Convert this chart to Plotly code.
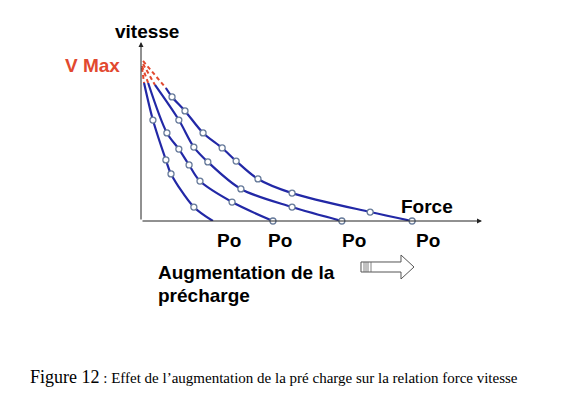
import plotly.graph_objects as go

# ---- data (Force, Vitesse in % of axis length) ----
# blue curve paths (first point = start of solid curve, last = Po on the force axis)
force_A = [0.9, 3.5, 7.3, 8.8, 15.5, 21.1]
vit_A   = [77.1, 56.4, 34.1, 26.3, 7.8, 0.0]
force_B = [2.1, 7.6, 11.1, 14.1, 17.3, 26.7, 38.7]
vit_B   = [77.1, 49.2, 40.2, 31.3, 22.3, 10.6, 0.0]
force_C = [4.1, 11.1, 15.5, 19.6, 29.3, 44.3, 58.9]
vit_C   = [76.0, 56.4, 41.3, 33.0, 17.9, 7.8, 0.0]
force_D = [7.3, 9.1, 12.9, 18.2, 23.8, 27.9, 34.3, 44.3, 67.2, 79.5]
vit_D   = [74.3, 69.3, 61.5, 49.2, 40.8, 33.5, 23.5, 15.6, 5.0, 0.0]

# measured points (markers) on each curve
mk_force_A = [3.5, 7.3, 8.8, 15.5]
mk_vit_A   = [56.4, 34.1, 26.3, 7.8]
mk_force_B = [7.6, 11.1, 14.1, 17.3, 26.7, 38.7]
mk_vit_B   = [49.2, 40.2, 31.3, 22.3, 10.6, 0.0]
mk_force_C = [11.1, 15.5, 19.6, 29.3, 44.3, 58.9]
mk_vit_C   = [56.4, 41.3, 33.0, 17.9, 7.8, 0.0]
mk_force_D = [9.1, 12.9, 18.2, 23.8, 27.9, 34.3, 44.3, 67.2, 79.5]
mk_vit_D   = [69.3, 61.5, 49.2, 40.8, 33.5, 23.5, 15.6, 5.0, 0.0]

# red dashed extrapolation towards V max (V max point, start of blue curve)
vmax_force = [0.3, 0.3, 0.6, 0.6]
vmax_vit   = [85.5, 86.6, 87.7, 89.4]

po_labels = ["Po", "Po", "Po", "Po"]

# ---- layout geometry ----
W, H = 567, 393
L, R, T, B = 141, 85, 42, 172
PW, PH = W - L - R, H - T - B

def px(x):
    return (x - L) / PW

def py(y):
    return (H - B - y) / PH

BLUE = "#2228a6"
RED = "#e2492f"
MK = "#667a9a"
SANS = "Liberation Sans, Arial, Helvetica, sans-serif"
SERIF = "Liberation Serif, Times New Roman, serif"

fig = go.Figure()

curves = [(force_A, vit_A), (force_B, vit_B), (force_C, vit_C), (force_D, vit_D)]
marks = [(mk_force_A, mk_vit_A), (mk_force_B, mk_vit_B),
         (mk_force_C, mk_vit_C), (mk_force_D, mk_vit_D)]

for i, (fx, vy) in enumerate(curves):
    fig.add_trace(go.Scatter(x=[vmax_force[i], fx[0]], y=[vmax_vit[i], vy[0]],
                             mode="lines", line=dict(color=RED, width=2, dash="4px,3px"),
                             hoverinfo="skip", showlegend=False))
    fig.add_trace(go.Scatter(x=fx, y=vy, mode="lines",
                             line=dict(color=BLUE, width=2.2, shape="spline", smoothing=0.9),
                             hoverinfo="skip", showlegend=False))

for fx, vy in marks:
    fig.add_trace(go.Scatter(x=fx, y=vy, mode="markers",
                             marker=dict(symbol="circle", size=6, color="white",
                                         line=dict(color=MK, width=1.3)),
                             hoverinfo="skip", showlegend=False, cliponaxis=False))

ann = []
# axes drawn as arrows
ann.append(dict(x=100, y=0, ax=0, ay=0, xref="x", yref="y", axref="x", ayref="y",
                showarrow=True, arrowhead=2, arrowsize=1, arrowwidth=1,
                arrowcolor="#222", text=""))
ann.append(dict(x=0, y=100, ax=0, ay=0, xref="x", yref="y", axref="x", ayref="y",
                showarrow=True, arrowhead=2, arrowsize=1, arrowwidth=1,
                arrowcolor="#222", text=""))

def label(text, x, y, size, color="black", family=SANS, xanchor="center", bold=True):
    t = f"<b>{text}</b>" if bold else text
    ann.append(dict(text=t, x=px(x), y=py(y), xref="paper", yref="paper",
                    xanchor=xanchor, yanchor="middle", showarrow=False,
                    font=dict(family=family, size=size, color=color)))

label("vitesse", 147, 32, 19)
label("V Max", 92, 65, 19, color=RED)
label("Force", 427, 206, 19)
for lab, xc in zip(po_labels, [229, 280, 354, 428]):
    label(lab, xc, 240, 19)
label("Augmentation de la", 156, 272, 19, xanchor="left")
label("précharge", 156, 295, 19, xanchor="left")
label("<span style='font-size:18px'>Figure 12</span> : Effet de l’augmentation de la pré charge sur la relation force vitesse",
      28, 377, 15, family=SERIF, xanchor="left", bold=False)

# hollow arrow icon
def pth(points):
    return "M " + " L ".join(f"{px(a):.5f},{py(b):.5f}" for a, b in points) + " Z"

shapes = [dict(type="path", xref="paper", yref="paper",
               path=pth([(361, 262), (401, 262), (401, 255), (414, 267),
                         (401, 279), (401, 272), (361, 272)]),
               line=dict(color="#555", width=1), fillcolor="white")]
for xv in [364, 366, 368, 371]:
    shapes.append(dict(type="line", xref="paper", yref="paper",
                       x0=px(xv), x1=px(xv), y0=py(262), y1=py(272),
                       line=dict(color="#666", width=0.8)))

fig.update_layout(
    width=W, height=H, margin=dict(l=L, r=R, t=T, b=B),
    paper_bgcolor="white", plot_bgcolor="white",
    xaxis=dict(range=[0, 100], visible=False),
    yaxis=dict(range=[0, 100], visible=False),
    annotations=ann, shapes=shapes, showlegend=False,
)

fig.write_html("out.html", config={"displayModeBar": False},
               post_script="document.body.style.margin='0';document.body.style.overflow='hidden';")
